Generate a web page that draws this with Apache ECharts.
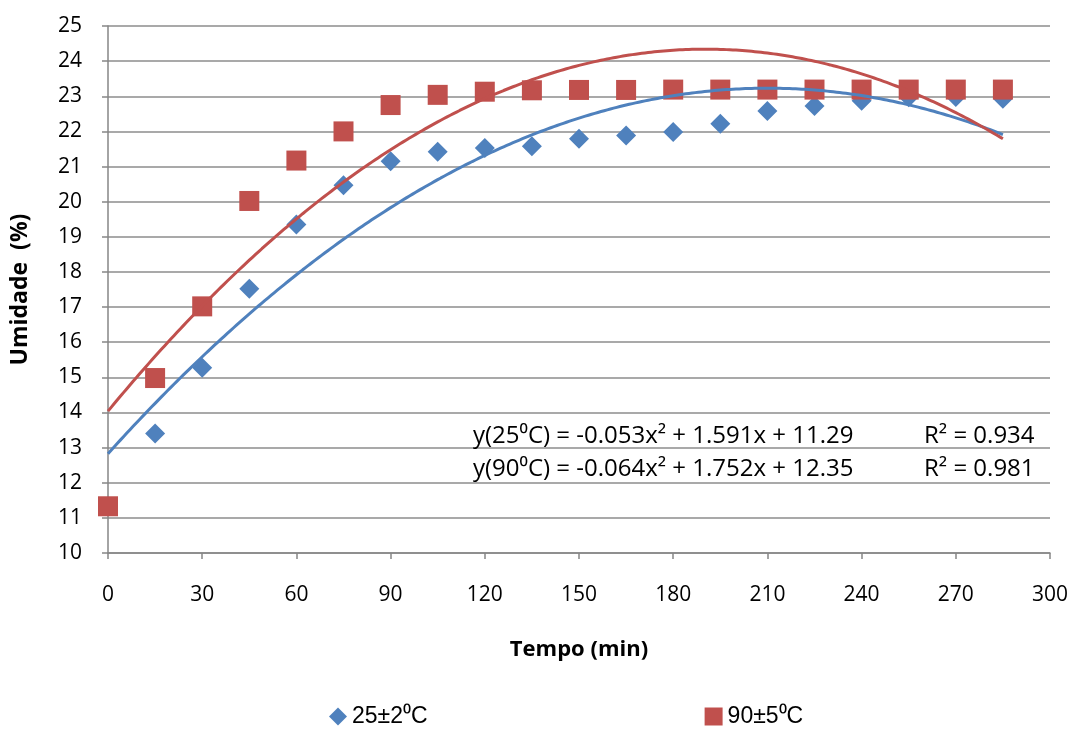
<!DOCTYPE html>
<html><head><meta charset="utf-8">
<script src="https://cdn.jsdelivr.net/npm/echarts@6/dist/echarts.min.js"></script>
<style>html,body{margin:0;padding:0;background:#fff}#c{width:1078px;height:729px}</style>
</head><body><div id="c"></div>
<script>
const tempo = [0,15,30,45,60,75,90,105,120,135,150,165,180,195,210,225,240,255,270,285];
const umid25 = [11.33,13.4,15.27,17.52,19.35,20.47,21.15,21.42,21.53,21.58,21.79,21.88,21.98,22.22,22.58,22.72,22.87,22.97,22.98,22.93];
const umid90 = [11.33,14.98,17.02,20.02,21.17,22.0,22.75,23.04,23.13,23.17,23.18,23.18,23.19,23.19,23.19,23.19,23.19,23.19,23.19,23.19];
const coef25 = [-0.053, 1.591, 11.29];
const coef90 = [-0.064, 1.752, 12.35];
const xTicks = [0,30,60,90,120,150,180,210,240,270,300];
const names = ['25±2⁰C','90±5⁰C'];
const eqText = ['y(25⁰C) = -0.053x² + 1.591x + 11.29','y(90⁰C) = -0.064x² + 1.752x + 12.35'];
const r2Text = ['R² = 0.934','R² = 0.981'];

function trend(c){
  const out=[];
  for(let t=tempo[0]; t<=tempo[tempo.length-1]; t+=1){
    const i = t/15 + 1;
    out.push([t, c[0]*i*i + c[1]*i + c[2]]);
  }
  return out;
}
const blue='#4f81bd', red='#c0504d';
const chart = echarts.init(document.getElementById('c'));
const F = "'Open Sans',sans-serif";
chart.setOption({
  animation:false,
  grid:{left:108,right:28,top:26,bottom:176},
  xAxis:{type:'value',min:xTicks[0],max:xTicks[xTicks.length-1],interval:30,
    axisLine:{lineStyle:{color:'#868686',width:1.5}},
    axisTick:{show:true,length:6,lineStyle:{color:'#868686',width:1.5}},
    axisLabel:{color:'#000',fontSize:21,fontFamily:F,margin:32},
    splitLine:{show:false},
    name:'Tempo (min)',nameLocation:'middle',nameGap:86,
    nameTextStyle:{color:'#000',fontSize:22,fontWeight:'bold',fontFamily:F}},
  yAxis:{type:'value',min:10,max:25,interval:1,
    axisLine:{show:true,lineStyle:{color:'#868686',width:1.5}},
    axisTick:{show:true,length:6,lineStyle:{color:'#868686',width:1.5}},
    axisLabel:{color:'#000',fontSize:21,fontFamily:F,margin:26},
    splitLine:{lineStyle:{color:'#8c8c8c',width:1.5}},
    name:'Umidade  (%)',nameLocation:'middle',nameGap:76,nameRotate:90,
    nameTextStyle:{color:'#000',fontSize:23,fontWeight:'bold',fontFamily:F}},
  legend:{bottom:-4,left:324,itemGap:277,itemWidth:18,itemHeight:18,
    textStyle:{color:'#000',fontSize:23,fontFamily:"'Liberation Sans',Arial,sans-serif"},
    data:[{name:names[0],icon:'diamond'},{name:names[1],icon:'rect'}]},
  series:[
    {name:names[0],type:'scatter',symbol:'diamond',symbolSize:20,itemStyle:{color:blue,opacity:1},
      data:tempo.map((t,i)=>[t,umid25[i]]),z:2},
    {name:names[1],type:'scatter',symbol:'rect',symbolSize:20,itemStyle:{color:red,opacity:1},
      data:tempo.map((t,i)=>[t,umid90[i]]),z:3},
    {name:'trend25',type:'line',showSymbol:false,symbol:'none',lineStyle:{color:blue,width:3},
      data:trend(coef25),z:4,silent:true},
    {name:'trend90',type:'line',showSymbol:false,symbol:'none',lineStyle:{color:red,width:3},
      data:trend(coef90),z:5,silent:true}
  ],
  graphic:[
    {type:'text',left:473,top:424,z:10,style:{text:eqText[0],fontSize:24,fill:'#000',fontFamily:F}},
    {type:'text',left:473,top:457,z:10,style:{text:eqText[1],fontSize:24,fill:'#000',fontFamily:F}},
    {type:'text',left:924,top:424,z:10,style:{text:r2Text[0],fontSize:24,fill:'#000',fontFamily:F}},
    {type:'text',left:924,top:457,z:10,style:{text:r2Text[1],fontSize:24,fill:'#000',fontFamily:F}}
  ]
});
</script></body></html>
